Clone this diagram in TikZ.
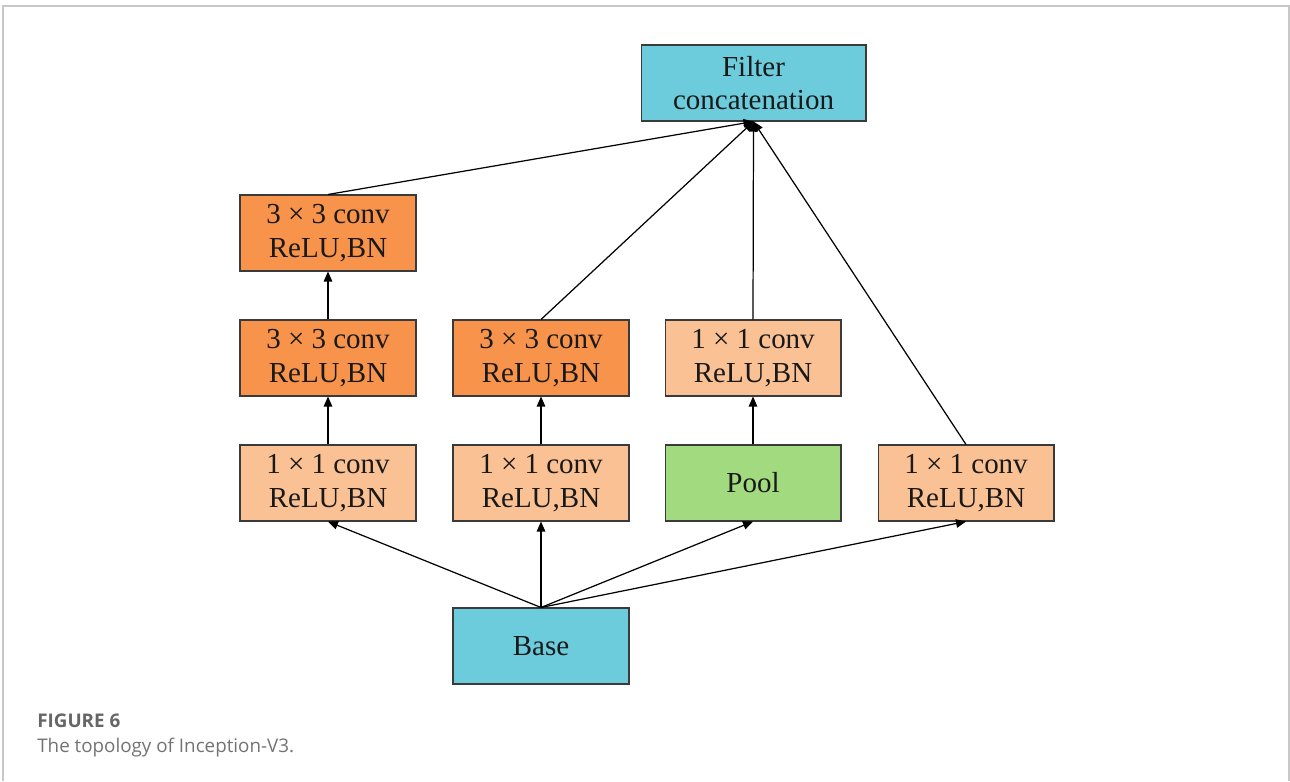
\documentclass[tikz,border=0pt]{standalone}
\usepackage{fontspec}
\setmainfont{Liberation Serif}
\newfontfamily\capfont{Open Sans}
\usetikzlibrary{arrows.meta}

\definecolor{boxcyan}{HTML}{6CCCDC}
\definecolor{boxdark}{HTML}{F7934B}
\definecolor{boxlight}{HTML}{FAC194}
\definecolor{boxgreen}{HTML}{A2DA7F}
\definecolor{boxedge}{HTML}{3A3A3A}
\definecolor{framegray}{HTML}{C8C8C8}

\tikzset{
  layer/.style={draw=boxedge, line width=0.6pt, minimum width=3.52cm, minimum height=1.52cm,
    inner sep=0pt, align=center, font=\fontsize{16.5}{19}\selectfont, text=black!90},
  dark/.style={layer, fill=boxdark},
  light/.style={layer, fill=boxlight},
  cyanbox/.style={layer, fill=boxcyan},
  greenbox/.style={layer, fill=boxgreen},
  link/.style={draw=black, line width=0.7pt, -{Triangle[length=0.2cm,width=0.17cm]}},
}

\begin{document}
\begin{tikzpicture}[x=0.02cm, y=-0.02cm]
  \useasboundingbox (0,0) rectangle (1290,781);
  % page frame (open at the bottom)
  \draw[framegray, line width=1pt] (3,781) -- (3,6) -- (1289,6) -- (1289,781);

  % layers
  \node[cyanbox, minimum width=4.5cm] (filt) at (753.5,83) {Filter\\concatenation};

  \node[dark]  (a1) at (328,233) {3 × 3 conv\\ReLU,BN};
  \node[dark]  (a2) at (328,358) {3 × 3 conv\\ReLU,BN};
  \node[light] (a3) at (328,483) {1 × 1 conv\\ReLU,BN};

  \node[dark]  (b2) at (541,358) {3 × 3 conv\\ReLU,BN};
  \node[light] (b3) at (541,483) {1 × 1 conv\\ReLU,BN};

  \node[light]    (c2) at (753,358) {1 × 1 conv\\ReLU,BN};
  \node[greenbox] (c3) at (753,483) {Pool};

  \node[light] (d3) at (966,483) {1 × 1 conv\\ReLU,BN};

  \node[cyanbox] (base) at (541,646) {Base};

  % base to first layer of each branch
  \draw[link] (base.north) -- (a3.south);
  \draw[link] (base.north) -- (b3.south);
  \draw[link] (base.north) -- (c3.south);
  \draw[link] (base.north) -- (d3.south);

  % inside the branches
  \draw[link] (a3.north) -- (a2.south);
  \draw[link] (a2.north) -- (a1.south);
  \draw[link] (b3.north) -- (b2.south);
  \draw[link] (c3.north) -- (c2.south);

  % branches to the concatenation
  \draw[link] (a1.north) -- (filt.south);
  \draw[link] (b2.north) -- (filt.south);
  \draw[link] (c2.north) -- (filt.south);
  \draw[link] (d3.north) -- (filt.south);

  % caption
  \node[anchor=base west, inner sep=0pt, font=\capfont\bfseries\fontsize{10.7}{12}\selectfont, text=black!60]
    (capt) at (37,727) {FIGURE 6};
  \node[anchor=base west, inner sep=0pt, font=\capfont\fontsize{10.7}{12}\selectfont, text=black!55]
    (capb) at (37,752) {The topology of Inception-V3.};
\end{tikzpicture}
\end{document}
